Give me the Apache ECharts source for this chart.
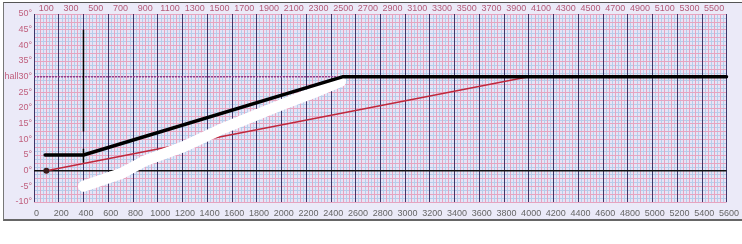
<!DOCTYPE html>
<html>
<head>
<meta charset="utf-8">
<script src="https://cdn.jsdelivr.net/npm/echarts@6/dist/echarts.min.js"></script>
<style>
html,body{margin:0;padding:0;background:#ffffff;width:742px;height:244px;overflow:hidden;}
#frame{position:absolute;left:3px;top:2px;width:760px;height:216px;background:#ebeaf8;border-top:1px solid #555;border-left:1px solid #777;border-bottom:2px solid #666;}
#chart{position:absolute;left:0;top:0;width:742px;height:244px;}
</style>
</head>
<body>
<div id="frame"></div>
<div id="chart"></div>
<script>
// ---- data ----
var bottomTicks = [0,200,400,600,800,1000,1200,1400,1600,1800,2000,2200,2400,2600,2800,3000,3200,3400,3600,3800,4000,4200,4400,4600,4800,5000,5200,5400,5600];
var topTicks = [100,300,500,700,900,1100,1300,1500,1700,1900,2100,2300,2500,2700,2900,3100,3300,3500,3700,3900,4100,4300,4500,4700,4900,5100,5300,5500];
var yTickValues = [-10,-5,0,5,10,15,20,25,30,35,40,45,50];
var yTickLabels = ['-10°','-5°','0°','5°','10°','15°','20°','25°','hall30°','35°','40°','45°','50°'];

var blackLine = [[90,5],[400,5],[2500,30],[5600,30]];
var redLine = [[100,0],[4000,30],[4350,30],[4650,30],[4900,30],[5300,30],[5340,30],[5600,30]];
var redMarkSizes = [6,0,3,3,3,3,3,0];
var whiteStroke = [[400,-5],[700,-1],[900,3.2],[1200,7.5],[1500,13],[2000,21],[2300,25.5],[2480,28.5]];
var markerPost = [[400,45],[400,12.5],[400,'-'],[400,7],[400,2.5],[400,'-'],[400,-5.5],[400,-6.5]];
var zeroLine = [[0,0],[5600,0]];
var hallLine = [[0,30],[5600,30]];

var X_MIN = 0, X_MAX = 5600, Y_MIN = -10, Y_MAX = 50;
var FONT = 'Liberation Sans, Arial, sans-serif';

function gridX(interval, color, z) {
  return {type:'value', min:X_MIN, max:X_MAX, interval:interval, z:z,
    axisLine:{show:false}, axisTick:{show:false}, axisLabel:{show:false},
    splitLine:{show:true, lineStyle:{color:color, width:1}}};
}
function gridY(interval, color, z) {
  return {type:'value', min:Y_MIN, max:Y_MAX, interval:interval, z:z,
    axisLine:{show:false}, axisTick:{show:false}, axisLabel:{show:false},
    splitLine:{show:true, lineStyle:{color:color, width:1}}};
}
function plain(v){ return String(v); }

var chart = echarts.init(document.getElementById('chart'), null, {renderer:'canvas'});
chart.setOption({
  animation:false,
  backgroundColor:'transparent',
  grid:{left:34, right:8, top:14, bottom:42, show:true, backgroundColor:'#e6e4f6', borderWidth:0},
  xAxis:[
    {type:'value', position:'bottom', min:X_MIN, max:X_MAX, interval:200, z:4,
      axisLine:{show:false}, axisTick:{show:false},
      axisLabel:{show:true, color:'#666', fontSize:9, fontFamily:FONT, margin:7, padding:[0,0,0,5], formatter:plain, customValues:bottomTicks},
      splitLine:{show:true, lineStyle:{color:'#3d3568', width:1}}},
    {type:'value', position:'top', min:X_MIN, max:X_MAX, interval:100, z:4,
      axisLine:{show:false}, axisTick:{show:false},
      axisLabel:{show:true, color:'#b45a78', fontSize:9, fontFamily:FONT, margin:1, formatter:plain, customValues:topTicks},
      splitLine:{show:false}},
    gridX(50, '#e6a4c0', 2),
    gridX(25, '#b6cdea', 1)
  ],
  yAxis:[
    {type:'value', min:Y_MIN, max:Y_MAX, interval:5, z:4,
      axisLine:{show:false}, axisTick:{show:false},
      axisLabel:{show:true, color:'#c0607e', fontSize:9, fontFamily:FONT, margin:2, customValues:yTickValues,
        formatter:function(v){ var i = yTickValues.indexOf(v); return i >= 0 ? yTickLabels[i] : ''; }},
      splitLine:{show:false}},
    gridY(2.5, '#e6a4c0', 2),
    gridY(1.25, '#b6cdea', 1)
  ],
  series:[
    {type:'line', data:zeroLine, z:5, symbol:'none', lineStyle:{color:'#111', width:1.5}, silent:true},
    {type:'line', data:hallLine, z:5, symbol:'none', lineStyle:{color:'#8a3f8e', width:1.5, type:[2,1]}, silent:true},
    {type:'line', data:markerPost, z:6, symbol:'none', connectNulls:false, lineStyle:{color:'#000', width:1.5}, silent:true},
    {type:'line', data:redLine, z:7, symbol:'circle', showSymbol:true,
      symbolSize:function(v, p){ return redMarkSizes[p.dataIndex]; },
      itemStyle:{color:'#3a1a1a'}, lineStyle:{color:'#c0283c', width:1.6}, silent:true},
    {type:'line', data:whiteStroke, z:8, symbol:'none',
      lineStyle:{color:'#ffffff', width:11, cap:'round', join:'round'}, silent:true},
    {type:'line', data:blackLine, z:9, symbol:'none',
      lineStyle:{color:'#000', width:3.5, cap:'round', join:'round'}, silent:true}
  ]
});
</script>
</body>
</html>
